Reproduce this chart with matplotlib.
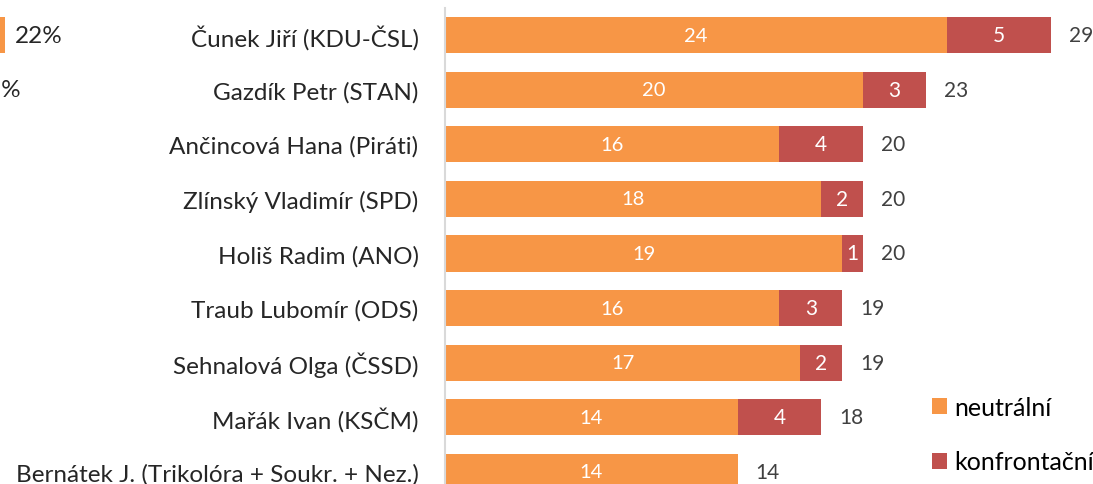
import numpy as np
import matplotlib.pyplot as plt

plt.rcParams['font.family'] = ['Lato', 'DejaVu Sans']

names = ['Čunek Jiří (KDU-ČSL)', 'Gazdík Petr (STAN)', 'Ančincová Hana (Piráti)',
         'Zlínský Vladimír (SPD)', 'Holiš Radim (ANO)', 'Traub Lubomír (ODS)',
         'Sehnalová Olga (ČSSD)', 'Mařák Ivan (KSČM)',
         'Bernátek J. (Trikolóra + Soukr. + Nez.)']
neutral = [24, 20, 16, 18, 19, 16, 17, 14, 14]
confront = [5, 3, 4, 2, 1, 3, 2, 4, 0]
totals = [n + c for n, c in zip(neutral, confront)]

# fragment of the neighbouring chart cut off at the left edge
frag_vals = [22, 19]

orange = '#F79646'
red = '#C0504D'
txt = '#262626'

W, H = 1093, 485
fig = plt.figure(figsize=(W / 100, H / 100), dpi=100)

top_px, bot_px = 8.7, 500.3
left_px = 445
bottom = 1 - bot_px / H
height = (bot_px - top_px) / H
ax = fig.add_axes([left_px / W, bottom, (W - left_px) / W, height])

y = np.arange(len(names))
b1 = ax.barh(y, neutral, height=0.66, color=orange)
b2 = ax.barh(y, confront, left=neutral, height=0.66, color=red)
ax.bar_label(b1, labels=[str(v) for v in neutral], label_type='center',
             color='white', fontsize=14.5)
ax.bar_label(b2, labels=[str(v) if v else '' for v in confront], label_type='center',
             color='white', fontsize=15)
ax.bar_label(b2, labels=[str(t) for t in totals], padding=13,
             color='#404040', fontsize=15)

ax.set_xlim(0, (W - left_px) / 20.9)
ax.set_ylim(len(names) - 0.5, -0.5)
ax.set_yticks(y)
ax.set_yticklabels(names, fontsize=17.5, color=txt)
ax.tick_params(axis='y', length=0, pad=19)
ax.set_xticks([])
for s in ['top', 'right', 'bottom']:
    ax.spines[s].set_visible(False)
ax.spines['left'].set_color('#D9D9D9')
ax.spines['left'].set_linewidth(1.5)

ax.legend([b1, b2], ['neutrální', 'konfrontační'], loc='lower right',
          bbox_to_anchor=(1.025, 0.022), frameon=False, fontsize=18,
          handlelength=0.6, handleheight=0.6, handletextpad=0.3,
          labelspacing=1.25, borderaxespad=0.2)

# left fragment
ax0 = fig.add_axes([-300 / W, bottom, 305 / W, height])
f = ax0.barh([0, 1], frag_vals, height=0.66, color=[orange, 'none'])
ax0.bar_label(f, labels=[f'{v}%' for v in frag_vals], padding=7,
              fontsize=17.5, color=txt)
ax0.set_xlim(0, 22)
ax0.set_ylim(len(names) - 0.5, -0.5)
ax0.axis('off')

fig.savefig('out.png', dpi=100)
